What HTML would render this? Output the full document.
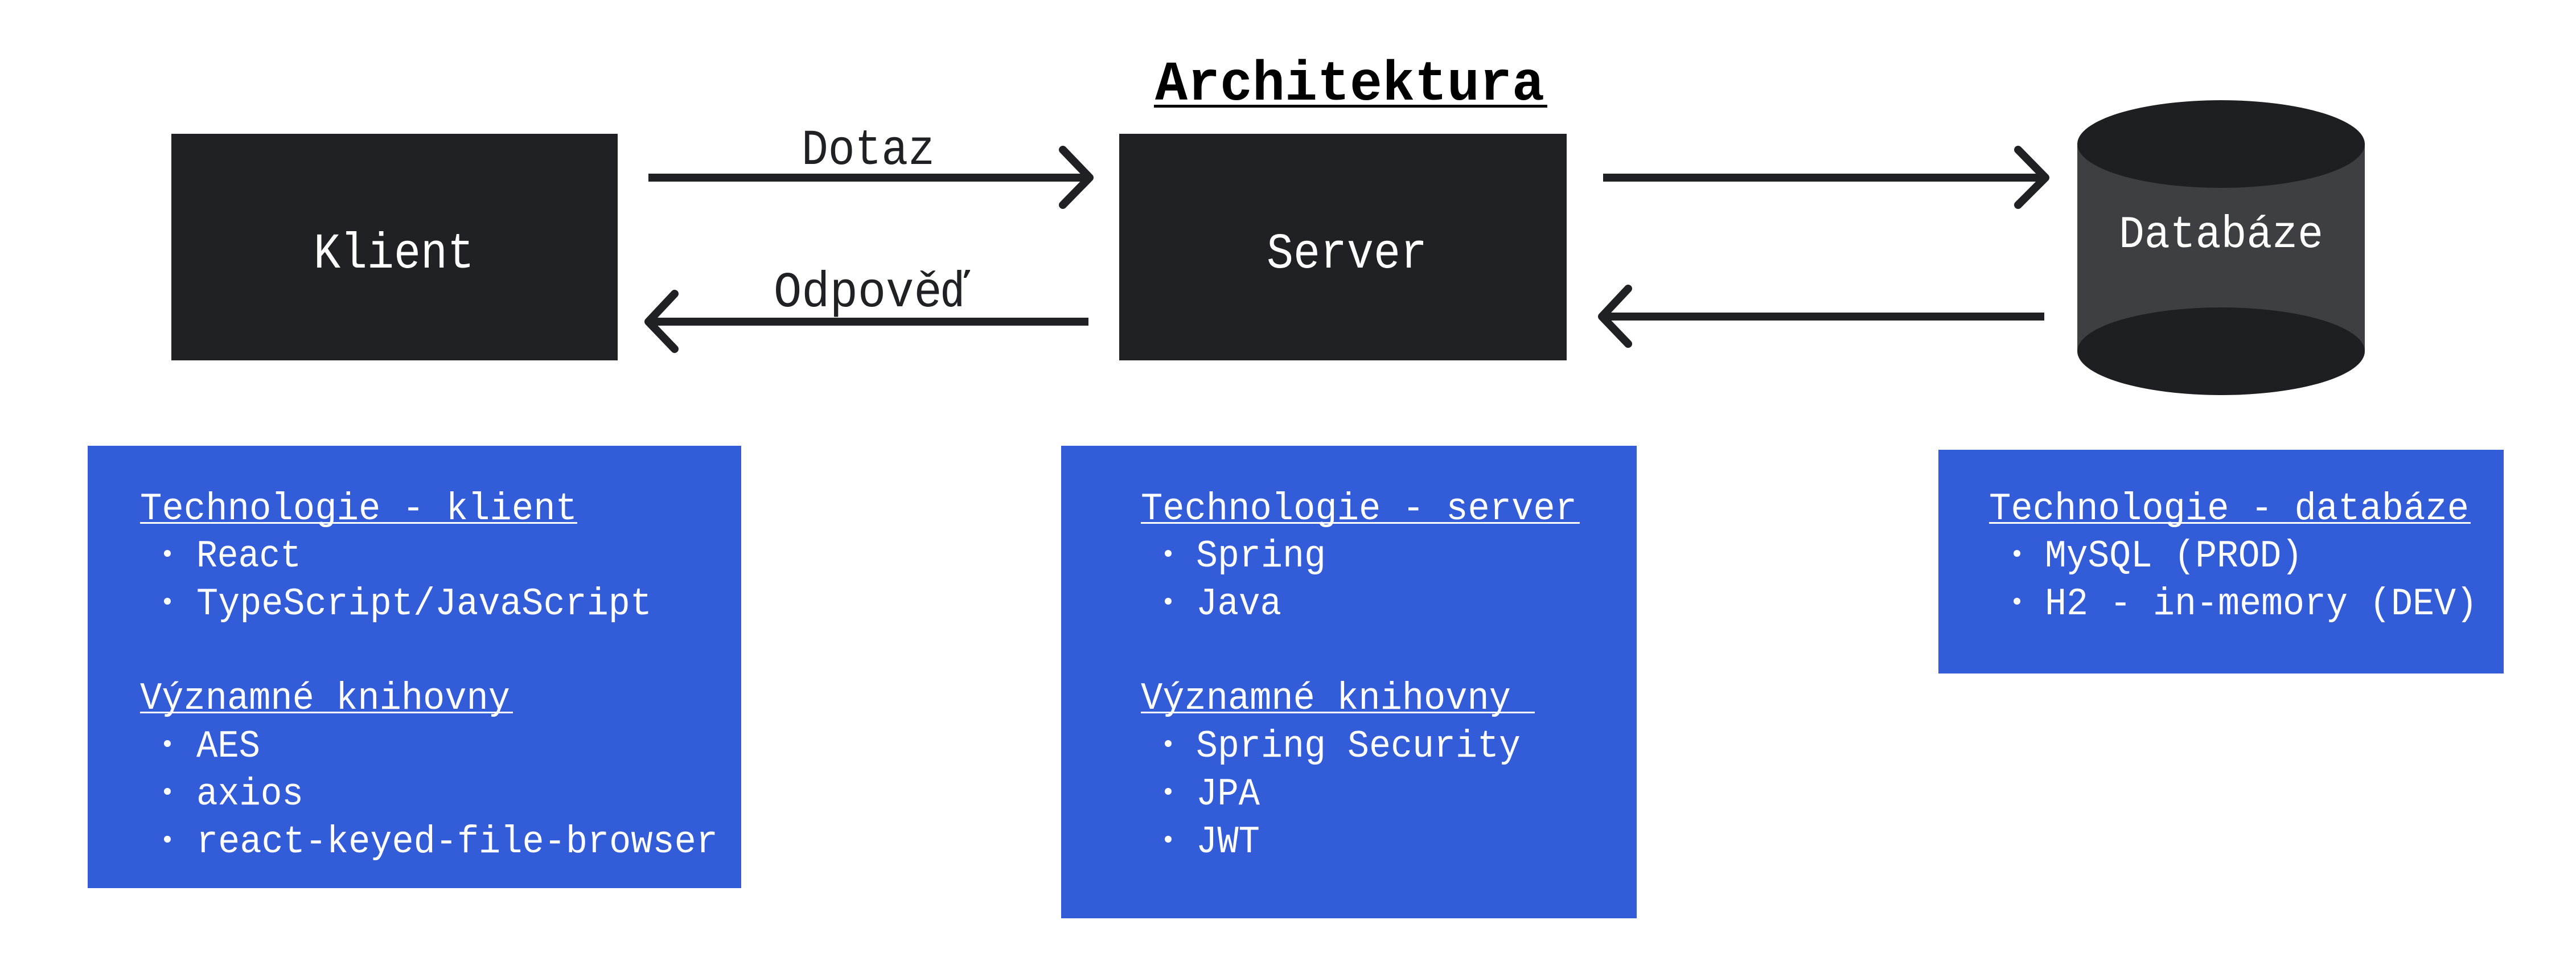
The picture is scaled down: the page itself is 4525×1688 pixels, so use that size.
<!DOCTYPE html>
<html><head><meta charset="utf-8"><style>html,body{margin:0;padding:0;background:#fff}svg{display:block}</style></head>
<body>
<svg width="4525" height="1688" viewBox="0 0 4525 1688" xmlns="http://www.w3.org/2000/svg" font-family="'Liberation Mono', monospace" xml:space="preserve">
<rect width="4525" height="1688" fill="#fff"/>
<text x="2029" y="175" font-size="98" font-weight="bold" fill="#000" textLength="684" lengthAdjust="spacingAndGlyphs">Architektura</text>
<rect x="2027" y="184" width="691" height="5" fill="#000"/>
<rect x="301" y="235" width="784" height="398" fill="#202124"/>
<rect x="1966" y="235" width="786" height="398" fill="#202124"/>
<text x="551" y="470" font-size="88" fill="#fff" textLength="282" lengthAdjust="spacingAndGlyphs">Klient</text>
<text x="2366" y="470" font-size="88" fill="#fff" text-anchor="middle" textLength="282" lengthAdjust="spacingAndGlyphs">Server</text>
<g stroke="#202124" stroke-width="14" fill="none" stroke-linecap="round" stroke-linejoin="round">
<line x1="1139" y1="312" x2="1914" y2="312" stroke-linecap="butt"/>
<polyline points="1867,263 1914,312 1867,360"/>
<line x1="1139" y1="565" x2="1912" y2="565" stroke-linecap="butt"/>
<polyline points="1185,516 1139,565 1185,613"/>
<line x1="2816" y1="312" x2="3593" y2="312" stroke-linecap="butt"/>
<polyline points="3545,263 3593,312 3545,360"/>
<line x1="2814" y1="556" x2="3591" y2="556" stroke-linecap="butt"/>
<polyline points="2860,507 2814,556 2860,604"/>
</g>
<text x="1408" y="288" font-size="88" fill="#202124" textLength="234" lengthAdjust="spacingAndGlyphs">Dotaz</text>
<text x="1359" y="538" font-size="88" fill="#202124" textLength="345" lengthAdjust="spacingAndGlyphs">Odpověď</text>
<rect x="3649" y="253" width="505" height="364" fill="#3e3f42"/>
<ellipse cx="3901.5" cy="617" rx="252.5" ry="77" fill="#1e1f22"/>
<ellipse cx="3901.5" cy="253" rx="252.5" ry="77" fill="#1e1f22"/>
<text x="3722" y="434" font-size="80" fill="#fff" textLength="359" lengthAdjust="spacingAndGlyphs">Databáze</text>
<rect x="154" y="783" width="1148" height="777" fill="#335cd8"/>
<rect x="1864" y="783" width="1011" height="830" fill="#335cd8"/>
<rect x="3405" y="790" width="993" height="393" fill="#335cd8"/>
<g fill="#fff" font-size="68">
<text x="246" y="912" textLength="768" lengthAdjust="spacingAndGlyphs">Technologie - klient</text>
<rect x="246" y="917" width="768" height="3"/>
<circle cx="294" cy="972" r="6"/><text x="345" y="995" textLength="184" lengthAdjust="spacingAndGlyphs">React</text>
<circle cx="294" cy="1056" r="6"/><text x="345" y="1079" textLength="800" lengthAdjust="spacingAndGlyphs">TypeScript/JavaScript</text>
<text x="246" y="1245" textLength="650" lengthAdjust="spacingAndGlyphs">Významné knihovny</text>
<rect x="246" y="1250" width="655" height="3"/>
<circle cx="294" cy="1306" r="6"/><text x="345" y="1329" textLength="112" lengthAdjust="spacingAndGlyphs">AES</text>
<circle cx="294" cy="1390" r="6"/><text x="345" y="1413" textLength="188" lengthAdjust="spacingAndGlyphs">axios</text>
<circle cx="294" cy="1474" r="6"/><text x="345" y="1497" textLength="916" lengthAdjust="spacingAndGlyphs">react-keyed-file-browser</text>
<text x="2004" y="912" textLength="766" lengthAdjust="spacingAndGlyphs">Technologie - server</text>
<rect x="2004" y="917" width="771" height="3"/>
<circle cx="2052" cy="972" r="6"/><text x="2101" y="995" textLength="228" lengthAdjust="spacingAndGlyphs">Spring</text>
<circle cx="2052" cy="1056" r="6"/><text x="2101" y="1079" textLength="150" lengthAdjust="spacingAndGlyphs">Java</text>
<text x="2004" y="1245" textLength="650" lengthAdjust="spacingAndGlyphs">Významné knihovny</text>
<rect x="2004" y="1250" width="692" height="3"/>
<circle cx="2052" cy="1306" r="6"/><text x="2101" y="1329" textLength="570" lengthAdjust="spacingAndGlyphs">Spring Security</text>
<circle cx="2052" cy="1390" r="6"/><text x="2101" y="1413" textLength="112" lengthAdjust="spacingAndGlyphs">JPA</text>
<circle cx="2052" cy="1474" r="6"/><text x="2101" y="1497" textLength="112" lengthAdjust="spacingAndGlyphs">JWT</text>
<text x="3494" y="912" textLength="843" lengthAdjust="spacingAndGlyphs">Technologie - databáze</text>
<rect x="3494" y="917" width="846" height="3"/>
<circle cx="3543" cy="972" r="6"/><text x="3592" y="995" textLength="453" lengthAdjust="spacingAndGlyphs">MySQL (PROD)</text>
<circle cx="3543" cy="1056" r="6"/><text x="3592" y="1079" textLength="760" lengthAdjust="spacingAndGlyphs">H2 - in-memory (DEV)</text>
</g>
</svg>
</body></html>
